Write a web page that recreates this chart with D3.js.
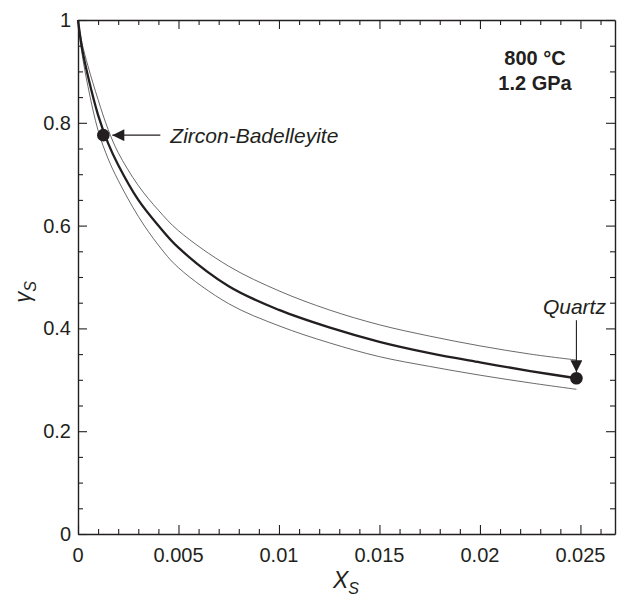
<!DOCTYPE html>
<html><head><meta charset="utf-8">
<script src="https://cdn.jsdelivr.net/npm/d3@7"></script>
<style>body{margin:0;background:#fff}svg{display:block}text{font-family:"Liberation Sans",Arial,Helvetica,sans-serif;fill:#231f20}</style>
</head><body>
<script>
// Data
const xGrid = [0, 0.0002, 0.0005, 0.001, 0.0015, 0.002, 0.003, 0.004, 0.005, 0.0075, 0.01, 0.0125, 0.015, 0.0175, 0.02, 0.0225, 0.0248];
const gammaMain  = [1, 0.945, 0.89, 0.815, 0.760, 0.718, 0.650, 0.600, 0.557, 0.482, 0.436, 0.402, 0.374, 0.352, 0.334, 0.317, 0.303];
const gammaUpper = [1, 0.955, 0.91, 0.845, 0.787, 0.742, 0.678, 0.630, 0.590, 0.521, 0.473, 0.436, 0.407, 0.385, 0.366, 0.350, 0.3385];
const gammaLower = [1, 0.935, 0.87, 0.785, 0.730, 0.688, 0.618, 0.562, 0.518, 0.448, 0.405, 0.372, 0.345, 0.326, 0.309, 0.294, 0.2815];
const points = [
  {name: "Zircon-Badelleyite", x: 0.00126, y: 0.776},
  {name: "Quartz", x: 0.0248, y: 0.303}
];
const xTicks = [0, 0.005, 0.01, 0.015, 0.02, 0.025];
const xTickLabels = ["0", "0.005", "0.01", "0.015", "0.02", "0.025"];
const yTicks = [0, 0.2, 0.4, 0.6, 0.8, 1];
const yTickLabels = ["0", "0.2", "0.4", "0.6", "0.8", "1"];
const conditions = ["800 °C", "1.2 GPa"];

const W = 617, H = 600;
const L = 78, R = 615, T = 20, B = 534;
const ink = "#231f20";
const svg = d3.select("body").append("svg").attr("width", W).attr("height", H);

const x = d3.scaleLinear().domain([0, 0.02672]).range([L, R]);
const y = d3.scaleLinear().domain([0, 1]).range([B, T]);

const defs = svg.append("defs");
defs.append("marker").attr("id", "arr").attr("viewBox", "0 0 10 10").attr("refX", 10).attr("refY", 5)
  .attr("markerWidth", 17).attr("markerHeight", 12).attr("markerUnits", "userSpaceOnUse").attr("orient", "auto")
  .append("path").attr("d", "M0,0 L10,5 L0,10 Z").attr("fill", ink);

// Axes (all four sides, ticks inward)
const xMinor = d3.range(0, 0.0266, 0.001);
const yMinor = d3.range(0, 1.0001, 0.05);
function ticksLen(v, majors) { return majors.some(m => Math.abs(m - v) < 1e-9) ? 9 : 5; }

const g = svg.append("g");
const gB = g.append("g").attr("transform", `translate(0,${B})`).call(d3.axisBottom(x).tickValues(xMinor).tickFormat("").tickSizeOuter(0));
gB.selectAll(".tick line").attr("y2", d => -ticksLen(d, xTicks));
const gT = g.append("g").attr("transform", `translate(0,${T})`).call(d3.axisTop(x).tickValues(xMinor).tickFormat("").tickSizeOuter(0));
gT.selectAll(".tick line").attr("y2", d => ticksLen(d, xTicks));
const gL = g.append("g").attr("transform", `translate(${L},0)`).call(d3.axisLeft(y).tickValues(yMinor).tickFormat("").tickSizeOuter(0));
gL.selectAll(".tick line").attr("x2", d => ticksLen(d, yTicks));
const gR = g.append("g").attr("transform", `translate(${R},0)`).call(d3.axisRight(y).tickValues(yMinor).tickFormat("").tickSizeOuter(0));
gR.selectAll(".tick line").attr("x2", d => -ticksLen(d, yTicks));
g.selectAll(".domain").attr("stroke", ink).attr("stroke-width", 1.4);
g.selectAll(".tick line").attr("stroke", ink).attr("stroke-width", 1.1);

// Tick labels
g.append("g").selectAll("text").data(xTicks).join("text")
  .attr("x", d => x(d)).attr("y", B + 28).attr("text-anchor", "middle").attr("font-size", 20)
  .text((d, i) => xTickLabels[i]);
g.append("g").selectAll("text").data(yTicks).join("text")
  .attr("x", L - 7).attr("y", d => y(d) + 7).attr("text-anchor", "end").attr("font-size", 20)
  .text((d, i) => yTickLabels[i]);

// Axis titles
const xt = svg.append("text").attr("x", 346).attr("y", 588).attr("text-anchor", "middle")
  .attr("font-size", 23).attr("font-style", "italic");
xt.append("tspan").text("X");
xt.append("tspan").attr("dy", 6).attr("font-size", 16).text("S");
const yt = svg.append("text").attr("transform", "translate(30,292) rotate(-90)").attr("text-anchor", "middle")
  .attr("font-size", 22).attr("font-style", "italic");
yt.append("tspan").text("γ");
yt.append("tspan").attr("dy", 6).attr("font-size", 16).text("S");

// Curves
const line = d3.line().x((d, i) => x(xGrid[i])).y(d => y(d)).curve(d3.curveCatmullRom.alpha(0.5));
svg.append("path").attr("d", line(gammaUpper)).attr("fill", "none").attr("stroke", "#444").attr("stroke-width", 0.8);
svg.append("path").attr("d", line(gammaLower)).attr("fill", "none").attr("stroke", "#444").attr("stroke-width", 0.8);
svg.append("path").attr("d", line(gammaMain)).attr("fill", "none").attr("stroke", ink).attr("stroke-width", 2.3);

// Points
svg.selectAll("circle.pt").data(points).join("circle").attr("class", "pt")
  .attr("cx", d => x(d.x)).attr("cy", d => y(d.y)).attr("r", 6.3).attr("fill", ink);

// Annotations
const zb = points[0], qz = points[1];
svg.append("line").attr("x1", x(zb.x) + 57).attr("y1", y(zb.y)).attr("x2", x(zb.x) + 9).attr("y2", y(zb.y))
  .attr("stroke", ink).attr("stroke-width", 1.1).attr("marker-end", "url(#arr)");
svg.append("text").attr("x", x(zb.x) + 67).attr("y", y(zb.y) + 8).attr("font-size", 21).attr("font-style", "italic")
  .text(zb.name);
svg.append("line").attr("x1", x(qz.x)).attr("y1", y(qz.y) - 58).attr("x2", x(qz.x)).attr("y2", y(qz.y) - 6)
  .attr("stroke", ink).attr("stroke-width", 1.1).attr("marker-end", "url(#arr)");
svg.append("text").attr("x", x(qz.x) - 2).attr("y", y(qz.y) - 64).attr("text-anchor", "middle").attr("font-size", 21)
  .attr("font-style", "italic").text(qz.name);

svg.append("g").selectAll("text").data(conditions).join("text")
  .attr("x", 535).attr("y", (d, i) => 65 + i * 25).attr("text-anchor", "middle")
  .attr("font-size", 20).attr("font-weight", "bold").text(d => d);
</script>
</body></html>
